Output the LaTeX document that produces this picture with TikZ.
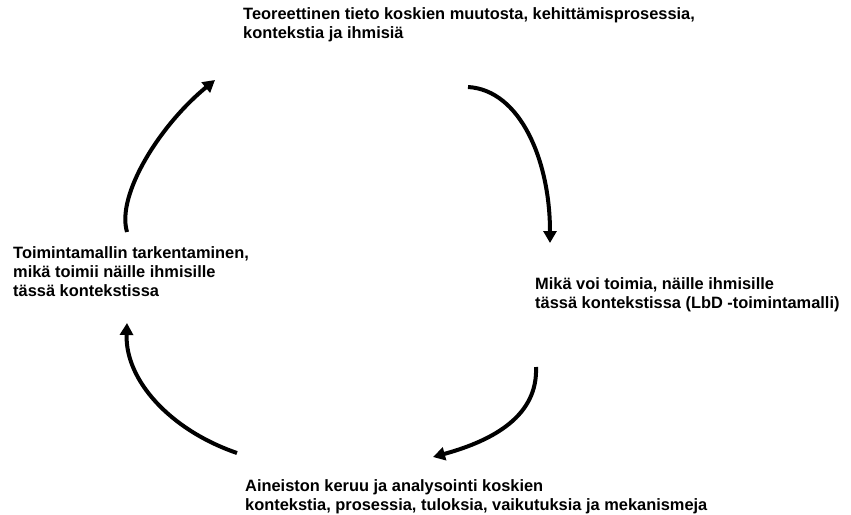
\documentclass[tikz,border=0pt]{standalone}
\usepackage{fontspec}
\setmainfont{Liberation Sans}
\usetikzlibrary{arrows.meta}
\tikzset{
  lbl/.style={inner sep=0pt, anchor=base west, align=left,
    font=\fontsize{16.4}{19}\selectfont\bfseries},
  cyc/.style={line width=4pt, -{Triangle[length=12pt,width=13pt]}}
}
\begin{document}
\begin{tikzpicture}[x=1pt,y=-1pt]
\useasboundingbox (0,0) rectangle (851,514);
\node[lbl] (ntop) at (243,38) {Teoreettinen tieto koskien muutosta, kehittämisprosessia,\\kontekstia ja ihmisiä};
\node[lbl] (nright) at (535,308) {Mikä voi toimia, näille ihmisille\\tässä kontekstissa (LbD -toimintamalli)};
\node[lbl] (nbottom) at (245,510) {Aineiston keruu ja analysointi koskien\\kontekstia, prosessia, tuloksia, vaikutuksia ja mekanismeja};
\node[lbl] (nleft) at (13,296) {Toimintamallin tarkentaminen,\\mikä toimii näille ihmisille\\tässä kontekstissa};
\coordinate (a1s) at (127,232);
\coordinate (a1e) at (215,80);
\coordinate (a2s) at (468,87);
\coordinate (a2e) at (550,243);
\coordinate (a3s) at (536,367);
\coordinate (a3e) at (433,457);
\coordinate (a4s) at (237,453);
\coordinate (a4e) at (127,323);
\draw[cyc] (a1s) .. controls (116,195) and (160,125) .. (a1e);
\draw[cyc] (a2s) .. controls (520,90) and (550,160) .. (a2e);
\draw[cyc] (a3s) .. controls (538,415) and (495,440) .. (a3e);
\draw[cyc] (a4s) .. controls (170,430) and (125,380) .. (a4e);
\end{tikzpicture}
\end{document}
